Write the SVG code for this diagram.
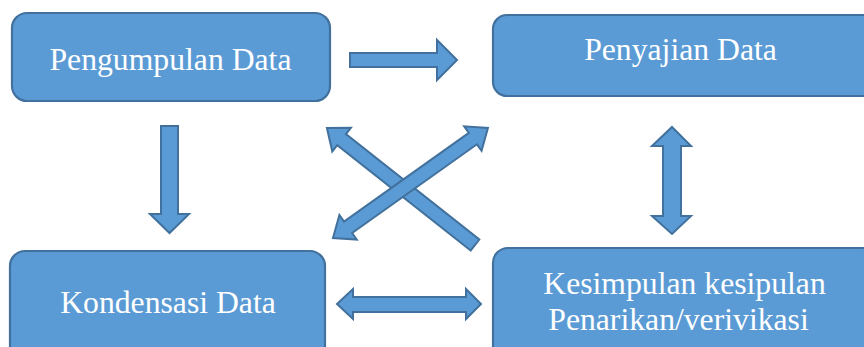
<svg xmlns="http://www.w3.org/2000/svg" width="864" height="347" viewBox="0 0 864 347">
  <style>
    .box { fill: #5B9BD5; stroke: #41719C; stroke-width: 2.2; }
    .arr { fill: #5B9BD5; stroke: #41719C; stroke-width: 2; stroke-linejoin: miter; }
    .lbl { font-family: "Liberation Serif", "Times New Roman", serif; font-size: 31.7px; fill: #FFFFFF; text-anchor: middle; }
  </style>
  <rect width="864" height="347" fill="#FFFFFF"/>
  <g id="node-pengumpulan">
    <rect class="box" x="12" y="13" width="318" height="88" rx="15" ry="15"/>
    <text class="lbl" x="170.5" y="70">Pengumpulan Data</text>
  </g>
  <g id="node-penyajian">
    <rect class="box" x="493" y="15" width="385" height="81" rx="14" ry="14"/>
    <text class="lbl" x="680.5" y="60">Penyajian Data</text>
  </g>
  <g id="node-kondensasi">
    <rect class="box" x="10" y="251" width="315" height="120" rx="15" ry="15"/>
    <text class="lbl" x="168" y="313">Kondensasi Data</text>
  </g>
  <g id="node-kesimpulan">
    <rect class="box" x="493" y="248" width="385" height="120" rx="15" ry="15"/>
    <text class="lbl" x="684.5" y="294">Kesimpulan kesipulan</text>
    <text class="lbl" x="678.5" y="330">Penarikan/verivikasi</text>
  </g>
  <g id="connectors">
    <polygon class="arr" points="350,53 437,53 437,40 457,60 437,80 437,67 350,67"/>
    <polygon class="arr" points="161,126 178,126 178,214 189,214 169.5,233 150,214 161,214"/>
    <polygon class="arr" points="672,127 691,146 681,146 681,216 691,216 672,234 652,216 663,216 663,146 652,146"/>
    <polygon class="arr" points="337,304 353,289 353,297 466,297 466,289 481,304 466,319 466,312 353,312 353,319"/>
    <g transform="translate(475,245) rotate(218.3)">
      <polygon class="arr" points="0,-7 170,-7 170,-15 188.7,0 170,15 170,7 0,7"/>
    </g>
    <g transform="translate(333,238) rotate(-35.4)">
      <polygon class="arr" points="0,0 18.5,-15 18.5,-7 171.6,-7 171.6,-15 190.1,0 171.6,15 171.6,7 18.5,7 18.5,15"/>
    </g>
  </g>
</svg>
